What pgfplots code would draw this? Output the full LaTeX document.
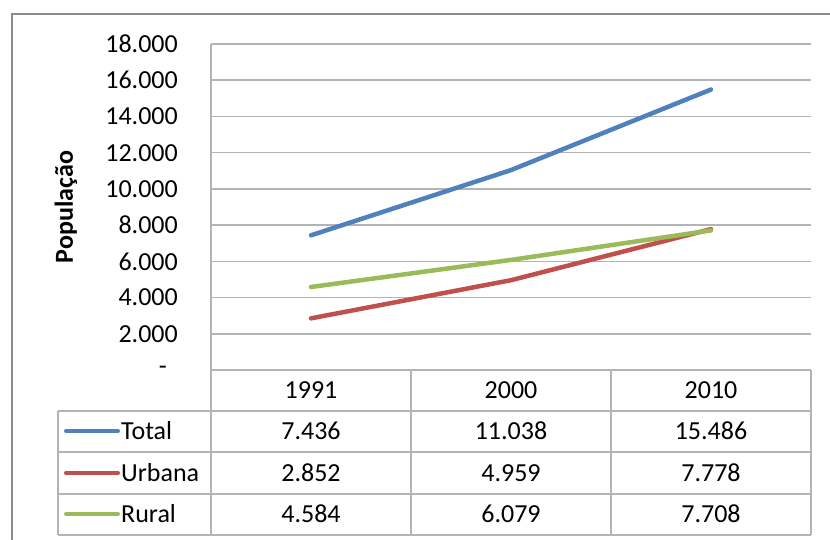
\documentclass[border=0pt]{standalone}
\usepackage{pgfplots}
\pgfplotsset{compat=1.18}
\usepackage{fontspec}
\setmainfont{Carlito}

\definecolor{cTotal}{RGB}{79,129,189}
\definecolor{cUrbana}{RGB}{192,80,77}
\definecolor{cRural}{RGB}{155,187,89}
\definecolor{gridc}{RGB}{180,180,180}
\definecolor{framec}{RGB}{140,140,140}

\begin{document}
\fontsize{26}{31}\selectfont
\begin{tikzpicture}
\begin{scope}[x=1pt,y=-1pt]
  \useasboundingbox (0,0) rectangle (830,539);
  % outer chart frame (cut off at right and bottom)
  \draw[framec, line width=2.5pt] (12,560) -- (12,14) -- (850,14);
\end{scope}

\begin{axis}[
    at={(211pt,-370pt)}, anchor=south west,
    scale only axis,
    width=600pt, height=326pt,
    xmin=-0.5, xmax=2.5,
    ymin=0, ymax=18000,
    xtick=\empty,
    scaled y ticks=false,
    ytick={0,2000,4000,6000,8000,10000,12000,14000,16000,18000},
    yticklabels={\makebox[19pt][l]{-},2.000,4.000,6.000,8.000,10.000,12.000,14.000,16.000,18.000},
    major tick length=0pt,
    yticklabel shift=33pt,
    yticklabel style={anchor=east, inner sep=0pt, font=\fontsize{26}{31}\selectfont},
    ymajorgrids=true,
    grid style={gridc, line width=1.5pt},
    axis line style={draw=none},
    clip=false,
]
\addplot[cTotal, line width=4.5pt, line cap=round] coordinates {(0,7436) (1,11038) (2,15486)};
\addplot[cUrbana, line width=4.5pt, line cap=round] coordinates {(0,2852) (1,4959) (2,7778)};
\addplot[cRural, line width=4.5pt, line cap=round] coordinates {(0,4584) (1,6079) (2,7708)};
\end{axis}

\begin{scope}[x=1pt,y=-1pt]
  % y axis title
  \node[rotate=90, font=\bfseries] at (66,207) {População};
  % data table
  \draw[gridc, line width=1.5pt] (211,44) -- (211,535);
  \foreach \xx in {411,611,811} \draw[gridc, line width=1.5pt] (\xx,370) -- (\xx,535);
  \draw[gridc, line width=1.5pt] (58,411) -- (58,535);
  \foreach \yy in {411,452,494,535} \draw[gridc, line width=1.5pt] (58,\yy) -- (811,\yy);
  \node at (311,390) {1991};
  \node at (511,390) {2000};
  \node at (711,390) {2010};
  \draw[cTotal, line width=4pt, line cap=round] (66,431) -- (118,431);
  \draw[cUrbana, line width=4pt, line cap=round] (66,473) -- (118,473);
  \draw[cRural, line width=4pt, line cap=round] (66,514) -- (118,514);
  \node[anchor=west, inner sep=0pt] at (121,431) {Total};
  \node[anchor=west, inner sep=0pt] at (121,473) {Urbana};
  \node[anchor=west, inner sep=0pt] at (121,514) {Rural};
  \node at (311,431) {7.436};  \node at (511,431) {11.038}; \node at (711,431) {15.486};
  \node at (311,473) {2.852};  \node at (511,473) {4.959};  \node at (711,473) {7.778};
  \node at (311,514) {4.584};  \node at (511,514) {6.079};  \node at (711,514) {7.708};
\end{scope}
\end{tikzpicture}
\end{document}
